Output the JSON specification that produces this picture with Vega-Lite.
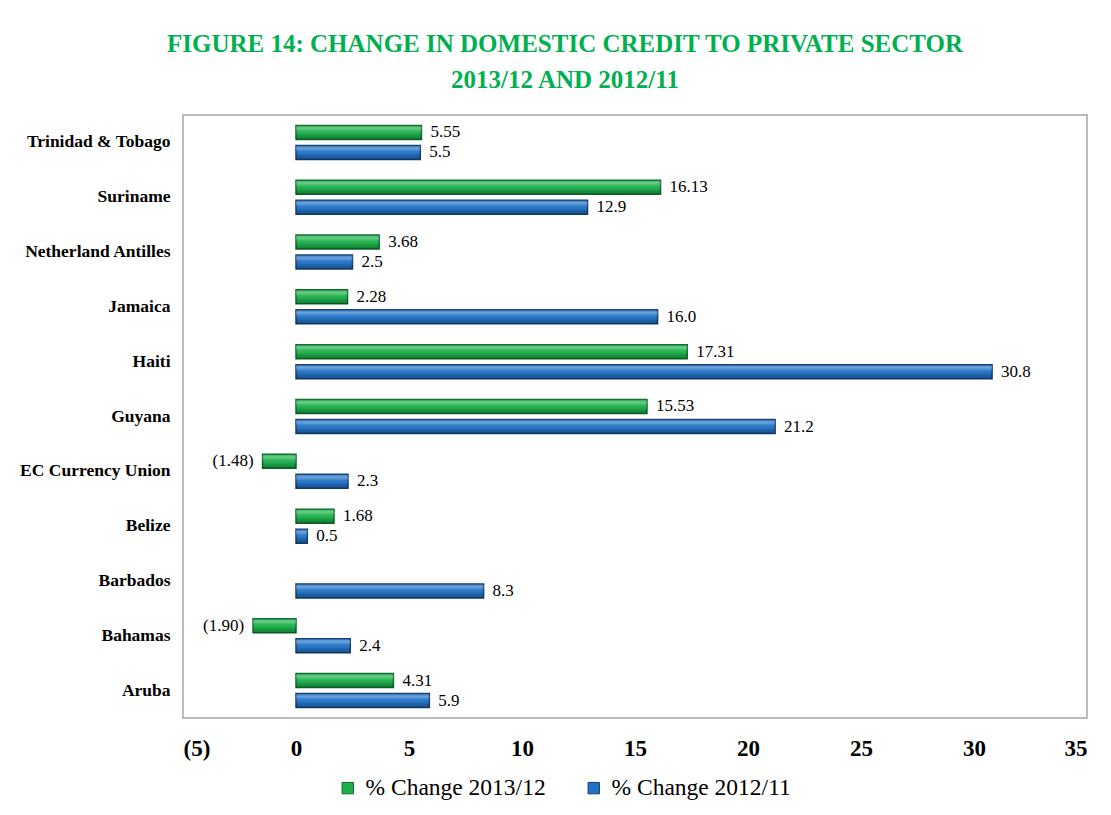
{
  "$schema": "https://vega.github.io/schema/vega-lite/v6.json",
  "width": 904,
  "height": 603,
  "autosize": {"type": "none"},
  "padding": {"left": 183, "top": 115, "right": 24, "bottom": 97},
  "background": "white",
  "config": {"view": {"stroke": "#A6A6A6", "strokeWidth": 1.5}},
  "title": {
    "text": ["FIGURE 14: CHANGE IN DOMESTIC CREDIT TO PRIVATE SECTOR", "2013/12 AND 2012/11"],
    "font": "Liberation Serif",
    "fontSize": 25,
    "fontWeight": "bold",
    "color": "#00B050",
    "anchor": "middle",
    "frame": "group",
    "dx": -70,
    "offset": 22,
    "lineHeight": 36
  },
  "data": {
    "values": [
      {"country": "Trinidad & Tobago", "series": "% Change 2013/12", "value": 5.55},
      {"country": "Trinidad & Tobago", "series": "% Change 2012/11", "value": 5.5},
      {"country": "Suriname", "series": "% Change 2013/12", "value": 16.13},
      {"country": "Suriname", "series": "% Change 2012/11", "value": 12.9},
      {"country": "Netherland Antilles", "series": "% Change 2013/12", "value": 3.68},
      {"country": "Netherland Antilles", "series": "% Change 2012/11", "value": 2.5},
      {"country": "Jamaica", "series": "% Change 2013/12", "value": 2.28},
      {"country": "Jamaica", "series": "% Change 2012/11", "value": 16.0},
      {"country": "Haiti", "series": "% Change 2013/12", "value": 17.31},
      {"country": "Haiti", "series": "% Change 2012/11", "value": 30.8},
      {"country": "Guyana", "series": "% Change 2013/12", "value": 15.53},
      {"country": "Guyana", "series": "% Change 2012/11", "value": 21.2},
      {"country": "EC Currency Union", "series": "% Change 2013/12", "value": -1.48},
      {"country": "EC Currency Union", "series": "% Change 2012/11", "value": 2.3},
      {"country": "Belize", "series": "% Change 2013/12", "value": 1.68},
      {"country": "Belize", "series": "% Change 2012/11", "value": 0.5},
      {"country": "Barbados", "series": "% Change 2012/11", "value": 8.3},
      {"country": "Bahamas", "series": "% Change 2013/12", "value": -1.9},
      {"country": "Bahamas", "series": "% Change 2012/11", "value": 2.4},
      {"country": "Aruba", "series": "% Change 2013/12", "value": 4.31},
      {"country": "Aruba", "series": "% Change 2012/11", "value": 5.9}
    ]
  },
  "transform": [
    {"calculate": "datum.series == '% Change 2013/12' ? format(datum.value, '(.2f') : format(datum.value, '(.1f')", "as": "label"}
  ],
  "encoding": {
    "y": {
      "field": "country", "type": "nominal",
      "sort": ["Trinidad & Tobago", "Suriname", "Netherland Antilles", "Jamaica", "Haiti", "Guyana", "EC Currency Union", "Belize", "Barbados", "Bahamas", "Aruba"],
      "scale": {"paddingInner": 0, "paddingOuter": 0},
      "axis": {"title": null, "ticks": false, "domain": false, "labelFont": "Liberation Serif", "labelFontWeight": "bold", "labelFontSize": 17.5, "labelColor": "#000000", "labelPadding": 13}
    },
    "yOffset": {
      "field": "series",
      "sort": ["% Change 2013/12", "% Change 2012/11"],
      "scale": {"paddingInner": 0.3, "paddingOuter": 0.52}
    },
    "x": {
      "field": "value", "type": "quantitative",
      "scale": {"domain": [-5, 35], "nice": false, "zero": false},
      "axis": {"title": null, "values": [-5, 0, 5, 10, 15, 20, 25, 30, 35], "format": "(d", "grid": false, "ticks": false, "domain": false, "labelFont": "Liberation Serif", "labelFontWeight": "bold", "labelFontSize": 23, "labelColor": "#000000", "labelPadding": 19}
    }
  },
  "layer": [
    {
      "mark": {"type": "bar", "strokeWidth": 1.5},
      "encoding": {
        "color": {
          "field": "series", "type": "nominal",
          "scale": {"domain": ["% Change 2013/12", "% Change 2012/11"], "range": ["#1DB14B", "#2273C8"]},
          "legend": {"title": null, "orient": "none", "direction": "horizontal", "legendX": 153, "legendY": 661, "symbolType": "square", "symbolSize": 130, "symbolStrokeWidth": 1, "labelFont": "Liberation Serif", "labelFontSize": 23.5, "labelColor": "#000000", "columnPadding": 36, "labelOffset": 6, "labelLimit": 300}
        },
        "stroke": {
          "field": "series", "type": "nominal",
          "scale": {"domain": ["% Change 2013/12", "% Change 2012/11"], "range": ["#0B6B2C", "#143F73"]},
          "legend": null
        }
      }
    },
    {
      "mark": {
        "type": "bar",
        "strokeWidth": 0,
        "fill": {"gradient": "linear", "x1": 0, "y1": 0, "x2": 0, "y2": 1, "stops": [
          {"offset": 0, "color": "rgba(255,255,255,0.05)"},
          {"offset": 0.2, "color": "rgba(255,255,255,0.35)"},
          {"offset": 0.45, "color": "rgba(255,255,255,0.05)"},
          {"offset": 0.7, "color": "rgba(0,0,0,0.12)"},
          {"offset": 1, "color": "rgba(0,0,0,0.3)"}
        ]}
      },
      "encoding": {}
    },
    {
      "data": {"values": [{}]},
      "mark": {"type": "rule", "color": "#BFBFBF", "strokeWidth": 1.5},
      "encoding": {"x": {"datum": 0}, "y": null, "yOffset": null}
    },
    {
      "transform": [{"filter": "datum.value >= 0"}],
      "mark": {"type": "text", "align": "left", "baseline": "middle", "dx": 9, "font": "Liberation Serif", "fontSize": 17, "color": "#000000"},
      "encoding": {"text": {"field": "label"}}
    },
    {
      "transform": [{"filter": "datum.value < 0"}],
      "mark": {"type": "text", "align": "right", "baseline": "middle", "dx": -9, "font": "Liberation Serif", "fontSize": 17, "color": "#000000"},
      "encoding": {"text": {"field": "label"}}
    }
  ]
}
